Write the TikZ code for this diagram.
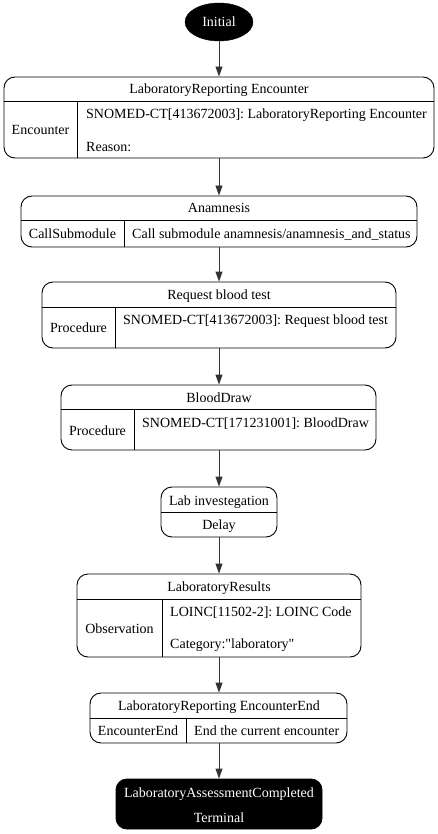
\documentclass[tikz,border=0pt]{standalone}
\usepackage{fontspec}
\setmainfont{Liberation Serif}[Ligatures=TeXOff]
\usetikzlibrary{arrows.meta,shapes.geometric}
\frenchspacing
\begin{document}
\begin{tikzpicture}[x=1pt,y=-1pt,
  statebox/.style={draw, line width=0.9pt, rounded corners=11pt, inner sep=0pt},
  termbox/.style={statebox, fill=black},
  lbl/.style={inner sep=0pt, anchor=base, font=\fontsize{14}{17}\selectfont},
  lbll/.style={lbl, anchor=base west},
  wlbl/.style={lbl, text=white},
  sepline/.style={line width=0.9pt},
  flow/.style={-{Triangle[length=10pt,width=7pt]}, line width=0.9pt, draw=black!80},
]
\useasboundingbox (0,0) rectangle (438,834);

% Initial
\node[ellipse, fill=black, draw, minimum width=68pt, minimum height=38pt, inner sep=0pt] (init) at (219,22) {};
\node[wlbl] (initT) at (219,27) {Initial};

% Box 1
\node[statebox, minimum width=430pt, minimum height=81pt] (b1) at (219,117.5) {};
\draw[sepline] (4,101) -- (434,101);
\draw[sepline] (77,101) -- (77,158);
\node[lbl] (b1h) at (219,94) {LaboratoryReporting Encounter};
\node[lbl] (b1l) at (40.5,135) {Encounter};
\node[lbll] (b1r1) at (86,119) {SNOMED-CT[413672003]: LaboratoryReporting Encounter};
\node[lbll] (b1r2) at (86,152) {Reason:};

% Box 2
\node[statebox, minimum width=396pt, minimum height=51pt] (b2) at (219,221.5) {};
\draw[sepline] (21,220) -- (417,220);
\draw[sepline] (124,220) -- (124,247);
\node[lbl] (b2h) at (219,213) {Anamnesis};
\node[lbl] (b2l) at (72.5,238) {CallSubmodule};
\node[lbll] (b2r) at (132,238) {Call submodule anamnesis/anamnesis\_and\_status};

% Box 3
\node[statebox, minimum width=354pt, minimum height=66pt] (b3) at (219,315) {};
\draw[sepline] (42,307) -- (396,307);
\draw[sepline] (115,307) -- (115,348);
\node[lbl] (b3h) at (219,299) {Request blood test};
\node[lbl] (b3l) at (78.5,332) {Procedure};
\node[lbll] (b3r) at (123,324) {SNOMED-CT[413672003]: Request blood test};

% Box 4
\node[statebox, minimum width=315pt, minimum height=65pt] (b4) at (218.5,417.5) {};
\draw[sepline] (61,409) -- (376,409);
\draw[sepline] (134,409) -- (134,450);
\node[lbl] (b4h) at (219,402) {BloodDraw};
\node[lbl] (b4l) at (97.5,435) {Procedure};
\node[lbll] (b4r) at (142,427) {SNOMED-CT[171231001]: BloodDraw};

% Box 5
\node[statebox, minimum width=116pt, minimum height=50pt] (b5) at (219,512) {};
\draw[sepline] (161,512) -- (277,512);
\node[lbl] (b5h) at (219,505) {Lab investegation};
\node[lbl] (b5r) at (219,529) {Delay};

% Box 6
\node[statebox, minimum width=284pt, minimum height=83pt] (b6) at (219,615.5) {};
\draw[sepline] (77,599) -- (361,599);
\draw[sepline] (162,599) -- (162,657);
\node[lbl] (b6h) at (219,591) {LaboratoryResults};
\node[lbl] (b6l) at (119.5,633) {Observation};
\node[lbll] (b6r1) at (170,616) {LOINC[11502-2]: LOINC Code};
\node[lbll] (b6r2) at (170,648) {Category:"laboratory"};

% Box 7
\node[statebox, minimum width=257pt, minimum height=50pt] (b7) at (218.5,718) {};
\draw[sepline] (90,718) -- (347,718);
\draw[sepline] (186,718) -- (186,743);
\node[lbl] (b7h) at (219,710) {LaboratoryReporting EncounterEnd};
\node[lbl] (b7l) at (138,735) {EncounterEnd};
\node[lbll] (b7r) at (194,735) {End the current encounter};

% Terminal
\node[termbox, minimum width=206pt, minimum height=50pt] (term) at (219,804) {};
\node[wlbl] (termh) at (219,797) {LaboratoryAssessmentCompleted};
\node[wlbl] (termt) at (219,822) {Terminal};

% Connectors
\draw[flow] (init.south) -- (b1.north);
\draw[flow] (b1.south) -- (b2.north);
\draw[flow] (b2.south) -- (b3.north);
\draw[flow] (b3.south) -- (b4.north -| b3.south);
\draw[flow] (b4.south -| b3.south) -- (b5.north);
\draw[flow] (b5.south) -- (b6.north);
\draw[flow] (b6.south) -- (b7.north -| b6.south);
\draw[flow] (b7.south -| b6.south) -- (term.north);
\end{tikzpicture}
\end{document}
